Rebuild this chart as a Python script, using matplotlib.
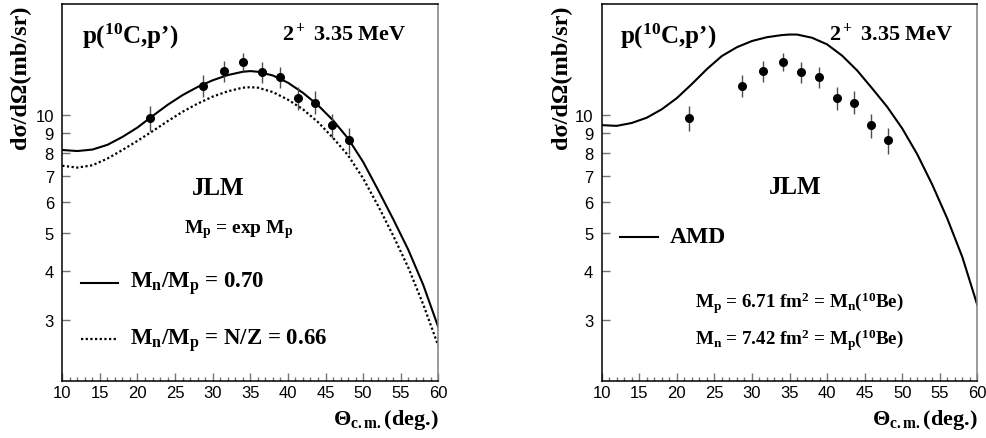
import matplotlib
matplotlib.use('Agg')
import matplotlib.pyplot as plt
from matplotlib.ticker import FixedLocator, MultipleLocator, NullLocator

# measured p(10C,p') 2+ 3.35 MeV
theta_data = [21.67, 28.68, 31.47, 34.09, 36.53, 38.97, 41.32, 43.54, 45.85, 48.11]
xsec_data = [9.82, 11.88, 12.95, 13.70, 12.85, 12.50, 11.03, 10.77, 9.41, 8.63]
xsec_err = [0.72, 0.78, 0.77, 0.73, 0.80, 0.75, 0.74, 0.73, 0.66, 0.66]

# JLM calculations
theta_calc = [10, 12, 14, 16, 18, 20, 22, 24, 26, 28, 30, 32, 34, 35, 36, 38,
              40, 42, 44, 46, 48, 50, 52, 54, 56, 58, 60]
jlm_070 = [8.15, 8.10, 8.17, 8.40, 8.80, 9.30, 9.95, 10.62, 11.25, 11.80, 12.27,
           12.65, 12.90, 12.95, 12.90, 12.62, 12.10, 11.40, 10.60, 9.70, 8.72,
           7.60, 6.44, 5.43, 4.54, 3.69, 2.88]
jlm_066 = [7.43, 7.35, 7.45, 7.75, 8.15, 8.60, 9.10, 9.65, 10.20, 10.70, 11.15,
           11.50, 11.75, 11.78, 11.75, 11.45, 10.95, 10.35, 9.60, 8.75, 7.90,
           6.90, 5.87, 4.93, 4.09, 3.29, 2.58]
jlm_amd = [9.43, 9.39, 9.55, 9.85, 10.35, 11.05, 12.00, 13.10, 14.15, 14.90, 15.45,
           15.80, 16.00, 16.05, 16.05, 15.75, 15.15, 14.18, 13.00, 11.70, 10.50,
           9.25, 7.95, 6.65, 5.45, 4.35, 3.28]

y_ticks = [3, 4, 5, 6, 7, 8, 9, 10]

plt.rcParams['font.family'] = 'Liberation Serif'
plt.rcParams['font.weight'] = 'bold'
plt.rcParams['mathtext.fontset'] = 'custom'
plt.rcParams['mathtext.bf'] = 'Liberation Serif:bold'
plt.rcParams['mathtext.rm'] = 'Liberation Serif:bold'
plt.rcParams['mathtext.it'] = 'Liberation Serif:bold'
plt.rcParams['mathtext.default'] = 'bf'


def setup_axes(ax, ylab_x):
    ax.set_yscale('log')
    ax.set_xlim(10, 60)
    ax.set_ylim(2.1, 19.2)
    ax.xaxis.set_major_locator(MultipleLocator(5))
    ax.xaxis.set_minor_locator(MultipleLocator(1))
    ax.yaxis.set_major_locator(FixedLocator(y_ticks))
    ax.yaxis.set_minor_locator(NullLocator())
    ax.set_yticklabels([str(t) for t in y_ticks])
    ax.tick_params(which='both', direction='in', color='0.45', width=1,
                   top=False, right=False, labelsize=12)
    ax.tick_params(which='major', length=5.5)
    ax.tick_params(which='minor', length=2.8)
    ax.tick_params(axis='x', pad=3)
    ax.tick_params(axis='y', pad=6)
    for lab in ax.get_xticklabels() + ax.get_yticklabels():
        lab.set_family('Liberation Sans')
        lab.set_weight('normal')
    for s in ax.spines.values():
        s.set_linewidth(1.1)
    ax.spines['right'].set_color('0.5')
    ax.text(ylab_x, 1.0, 'dσ/dΩ(mb/sr)', rotation=90, ha='center', va='top',
            fontsize=17.5, transform=ax.transAxes)
    ax.text(1.0, -0.114, r'$\Theta_{c.m.}$(deg.)', ha='right', va='baseline',
            fontsize=16, transform=ax.transAxes)


def draw_data(ax):
    ax.errorbar(theta_data, xsec_data, yerr=xsec_err, fmt='none', ecolor='0.3',
                elinewidth=1, capsize=0, zorder=3)
    ax.plot(theta_data, xsec_data, 'o', color='black', markersize=5.5, zorder=4)


fig = plt.figure(figsize=(9.87, 4.39), dpi=100)

# left panel, JLM with two Mn/Mp
ax1 = fig.add_axes([0.0631, 0.1298, 0.381, 0.8588])
setup_axes(ax1, -0.110)
draw_data(ax1)
ax1.plot(theta_calc, jlm_070, '-', color='black', lw=1.5)
ax1.plot(theta_calc, jlm_066, color='black', lw=1.6, linestyle=(0, (1, 1.1)),
         dash_capstyle='butt')

ax1.text(0.052, 0.899, r"p($^{10}$C,p’)", fontsize=18, transform=ax1.transAxes,
         va='baseline')
ax1.text(0.917, 0.905, r"$2^+$ 3.35 MeV", fontsize=16, transform=ax1.transAxes,
         va='baseline', ha='right')
ax1.text(0.414, 0.496, 'JLM', fontsize=18, transform=ax1.transAxes,
         va='baseline', ha='center')
ax1.text(0.469, 0.395, r'M$_p$ = exp M$_p$', fontsize=14,
         transform=ax1.transAxes, va='baseline', ha='center')
ax1.plot([0.050, 0.148], [0.260, 0.260], '-', color='black', lw=1.5,
         transform=ax1.transAxes)
ax1.text(0.180, 0.249, r'M$_n$/M$_p$ = 0.70', fontsize=16.5,
         transform=ax1.transAxes, va='baseline')
ax1.plot([0.050, 0.148], [0.111, 0.111], color='black', lw=1.6,
         linestyle=(0, (1, 1.1)), dash_capstyle='butt', transform=ax1.transAxes)
ax1.text(0.180, 0.098, r'M$_n$/M$_p$ = N/Z = 0.66', fontsize=16.5,
         transform=ax1.transAxes, va='baseline')

# right panel, AMD densities
ax2 = fig.add_axes([0.6096, 0.1298, 0.3806, 0.8588])
setup_axes(ax2, -0.106)
draw_data(ax2)
ax2.plot(theta_calc, jlm_amd, '-', color='black', lw=1.5)

ax2.text(0.049, 0.899, r"p($^{10}$C,p’)", fontsize=18, transform=ax2.transAxes,
         va='baseline')
ax2.text(0.936, 0.905, r"$2^+$ 3.35 MeV", fontsize=16, transform=ax2.transAxes,
         va='baseline', ha='right')
ax2.text(0.515, 0.499, 'JLM', fontsize=18, transform=ax2.transAxes,
         va='baseline', ha='center')
ax2.plot([0.049, 0.150], [0.382, 0.382], '-', color='black', lw=1.5,
         transform=ax2.transAxes)
ax2.text(0.182, 0.369, 'AMD', fontsize=17, transform=ax2.transAxes,
         va='baseline')
ax2.text(0.248, 0.196, r'M$_p$ = 6.71 fm$^2$ = M$_n$($^{10}$Be)', fontsize=13.7,
         transform=ax2.transAxes, va='baseline')
ax2.text(0.248, 0.098, r'M$_n$ = 7.42 fm$^2$ = M$_p$($^{10}$Be)', fontsize=13.7,
         transform=ax2.transAxes, va='baseline')

fig.savefig('out.png', dpi=100)
